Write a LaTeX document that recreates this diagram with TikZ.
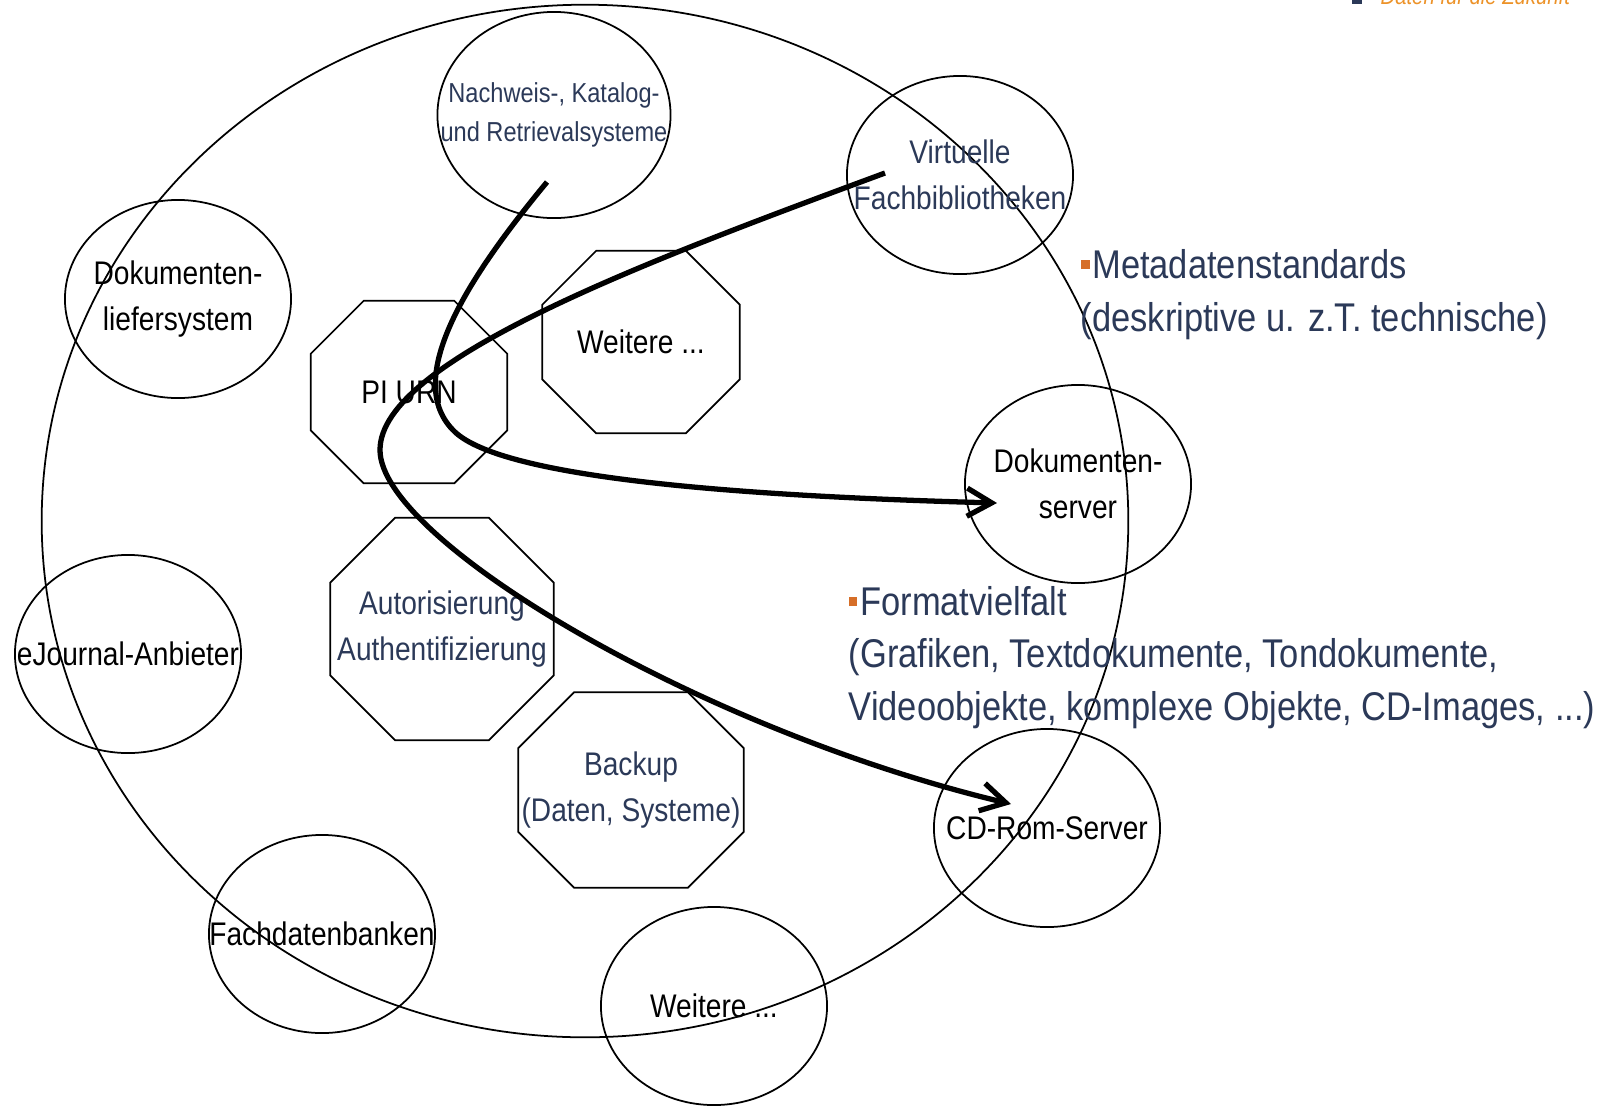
\documentclass[tikz,border=0pt]{standalone}
\usepackage{fontspec}
\setmainfont[FakeStretch=0.86]{Liberation Sans}
\usetikzlibrary{arrows.meta,shapes.geometric,calc}
\definecolor{navy}{RGB}{43,57,88}
\definecolor{orng}{RGB}{214,110,40}
\definecolor{gold}{RGB}{236,146,40}
\tikzstyle{blob}=[draw,ellipse,line width=0.5pt,minimum width=2.26cm,minimum height=1.98cm,inner sep=0pt]
\tikzstyle{lbl}=[inner sep=0pt,align=center,font=\fontsize{9.3}{13.2}\selectfont]
\tikzstyle{octo}=[rectangle,inner sep=0pt,align=center,font=\fontsize{9.3}{13.2}\selectfont]
\tikzstyle{flow}=[line width=1.5pt,-{Straight Barb[length=7pt,width=8pt]}]
\tikzstyle{note}=[anchor=base west,inner sep=0pt,align=left,text=navy,font=\fontsize{11.4}{14.8}\selectfont]
\newcommand{\octagon}[2]{\draw[line width=0.5pt] ($(#1.north west)+(#2,0)$) -- ($(#1.north east)+(-#2,0)$)
  -- ($(#1.north east)+(0,#2)$) -- ($(#1.south east)+(0,-#2)$) -- ($(#1.south east)+(-#2,0)$)
  -- ($(#1.south west)+(#2,0)$) -- ($(#1.south west)+(0,-#2)$) -- ($(#1.north west)+(0,#2)$) -- cycle;}
\newcommand{\sqbullet}{\textcolor{orng}{\rule[2.8pt]{2.5pt}{2.6pt}}\hspace{0.8pt}}

\begin{document}
\begin{tikzpicture}[x=0.01cm,y=-0.01cm]
\useasboundingbox (0,0) rectangle (1617,1105);
% header, cut off at the top
\fill [navy] (1352,-6) rectangle (1362,4);
\node [anchor=base west,inner sep=0pt,text=gold,font=\fontsize{6.7}{8}\selectfont\itshape] (motto) at (1380,4) {Daten für die Zukunft};
% the big circle
\node [draw,ellipse,line width=0.5pt,minimum width=10.86cm,minimum height=10.32cm] (domain) at (585,521) {};
% systems round it
\node [blob,minimum width=2.33cm,minimum height=2.06cm,label={[lbl,text=navy,font=\fontsize{7.8}{10.9}\selectfont]center:Nachweis-, Katalog-\\und Retrievalsysteme}] (nachweis) at (554,115) {};
\node [blob,label={[lbl,text=navy]center:Virtuelle\\Fachbibliotheken}] (vfb) at (960,175) {};
\node [blob,label={[lbl]center:Dokumenten-\\liefersystem}] (liefer) at (178,299) {};
\node [blob,label={[lbl]center:Dokumenten-\\server}] (dserver) at (1078,484) {};
\node [blob,label={[lbl]center:eJournal-Anbieter}] (ejournal) at (128,654) {};
\node [blob,label={[lbl]center:CD-Rom-Server}] (cdrom) at (1047,828) {};
\node [blob,label={[lbl]center:Fachdatenbanken}] (fachdb) at (322,934) {};
\node [blob,label={[lbl]center:Weitere ...}] (weitere2) at (714,1006) {};
% services inside
\node [octo,minimum width=1.95cm,minimum height=1.81cm] (pi) at (409,392) {PI URN};
\node [octo,minimum width=1.96cm,minimum height=1.81cm] (weitere1) at (641,342) {Weitere ...};
\node [octo,text=navy,minimum width=2.22cm,minimum height=2.21cm] (auth) at (442,629) {Autorisierung\\Authentifizierung};
\node [octo,text=navy,minimum width=2.24cm,minimum height=1.94cm] (backup) at (631,790) {Backup\\(Daten, Systeme)};
\octagon{pi}{53}
\octagon{weitere1}{54}
\octagon{auth}{65}
\octagon{backup}{56}
% notes
\node [note] (meta) at (1080,331) {\sqbullet Metadatenstandards\\(deskriptive u. z.T. technische)};
\node [note] (format) at (848,720) {\sqbullet Formatvielfalt\\(Grafiken, Textdokumente, Tondokumente,\\Videoobjekte, komplexe Objekte, CD-Images, ...)};
% flows
\coordinate (s1) at (547,182);
\coordinate (e1) at (997,503);
\coordinate (s2) at (885,173);
\coordinate (e2) at (1011,804);
\draw [flow] (s1) .. controls (470,275) and (400,380) .. (455,432) .. controls (500,474) and (700,495) .. (e1);
\draw [flow] (s2) .. controls (650,260) and (380,360) .. (380,450) .. controls (380,540) and (700,730) .. (e2);
\end{tikzpicture}
\end{document}
